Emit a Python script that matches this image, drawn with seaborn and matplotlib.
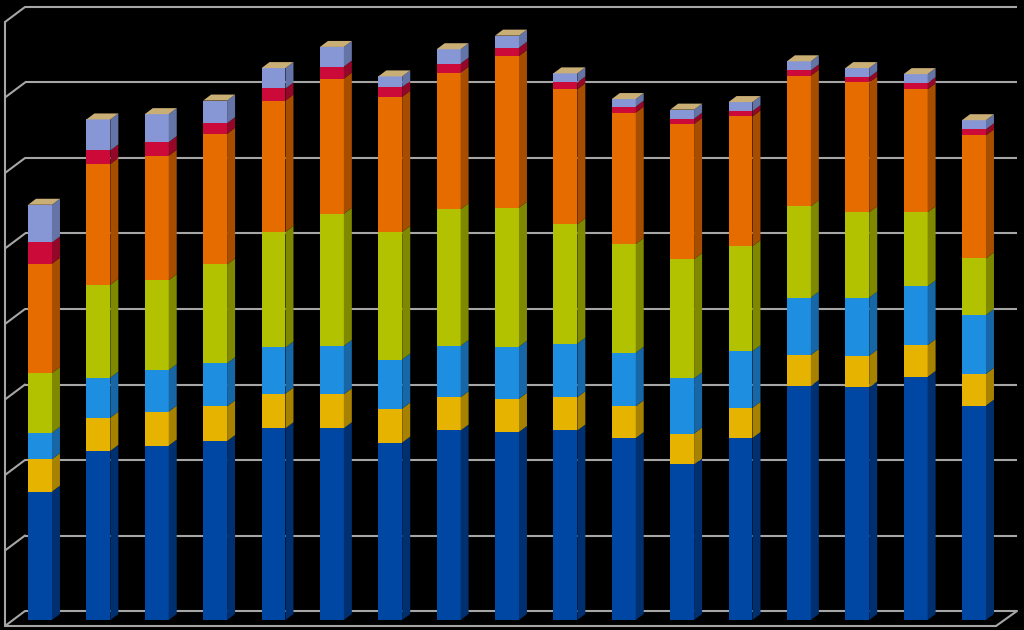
import numpy as np
import pandas as pd
import matplotlib
matplotlib.use("Agg")
import matplotlib.pyplot as plt
from matplotlib.patches import Polygon
import seaborn as sns

# ---------------- data ----------------
categories = [f"P{i}" for i in range(1, 18)]
series_names = ["S1", "S2", "S3", "S4", "S5", "S6", "S7"]
s1_blue = [170, 224, 231, 237, 254, 254, 235, 251, 249, 251, 241, 206, 241, 310, 308, 322, 284]
s2_gold = [43, 44, 45, 46, 46, 45, 45, 44, 44, 44, 42, 41, 40, 41, 42, 42, 42]
s3_lightblue = [35, 53, 55, 57, 61, 64, 65, 68, 69, 71, 71, 73, 75, 76, 77, 78, 78]
s4_yellowgreen = [79, 123, 119, 131, 153, 175, 169, 181, 184, 158, 144, 158, 139, 121, 113, 98, 75]
s5_orange = [145, 160, 165, 173, 174, 179, 179, 181, 201, 179, 174, 179, 172, 173, 172, 163, 163]
s6_red = [28, 18, 18, 14, 16, 16, 13, 12, 11, 9, 8, 7, 7, 7, 7, 8, 8]
s7_lavender = [50, 41, 37, 30, 27, 26, 14, 19, 16, 12, 10, 12, 12, 12, 12, 12, 12]
gridlines = [0, 100, 200, 300, 400, 500, 600, 700, 800]

series = [s1_blue, s2_gold, s3_lightblue, s4_yellowgreen, s5_orange, s6_red, s7_lavender]
front_colors = ["#0047A3", "#E5B300", "#1E8EE0", "#B3C200", "#E66C00", "#CC0A3A", "#8797D6"]
side_colors = ["#00306F", "#A68200", "#1766A6", "#7E8900", "#A64D00", "#930828", "#6574A6"]
cap_color = "#C9AE76"
grid_color = "#A6A6A6"

# ---------------- figure ----------------
sns.set_style("dark", {"axes.facecolor": "black", "figure.facecolor": "black"})
fig = plt.figure(figsize=(10.24, 6.30), dpi=100, facecolor="black")
ax = fig.add_axes([0, 0, 1, 1])
ax.set_facecolor("black")

px_per_x = 58.375          # pixels per category step
px_per_v = 0.755           # pixels per value unit
bar_w = 0.41
ddx = 8 / px_per_x         # bar depth (x)
ddy = 6 / px_per_v         # bar depth (y)

# walls / gridlines (back plane)
wall_dy = 9 / px_per_v
x_back_l = (25 - 40) / px_per_x
x_back_r = (1017 - 40) / px_per_x
x_front_l = (5 - 40) / px_per_x
x_front_r = (996 - 40) / px_per_x
left_dy = 15 / px_per_v
for g in gridlines:
    yb = g + wall_dy
    ax.plot([x_back_l, x_back_r], [yb, yb], color=grid_color, lw=1.5, zorder=0,
            solid_capstyle="butt")
    ax.plot([x_front_l, x_back_l], [yb - left_dy, yb], color=grid_color, lw=1.5, zorder=0)
# left wall vertical, floor front edge, floor right edge
ax.plot([x_front_l, x_front_l], [wall_dy - left_dy, gridlines[-1] + wall_dy - left_dy],
        color=grid_color, lw=1.5, zorder=0)
ax.plot([x_front_l, x_front_r], [wall_dy - left_dy] * 2, color=grid_color, lw=1.5, zorder=0)
ax.plot([x_front_r, x_back_r], [wall_dy - left_dy, wall_dy], color=grid_color, lw=1.5, zorder=0)

# stacked front faces via seaborn
df = pd.DataFrame({"cat": categories})
bottom = np.zeros(len(categories))
for vals, fc in zip(series, front_colors):
    df["v"] = vals
    sns.barplot(data=df, x="cat", y="v", order=categories, bottom=bottom, color=fc,
                saturation=1, width=bar_w, errorbar=None, edgecolor="none",
                linewidth=0, ax=ax, zorder=3)
    bottom = bottom + np.array(vals)

# 3D side faces and top caps, from the same data
bottom = np.zeros(len(categories))
for vals, sc in zip(series, side_colors):
    top = bottom + np.array(vals)
    for i in range(len(categories)):
        xr = i + bar_w / 2
        ax.add_patch(Polygon([(xr, bottom[i]), (xr + ddx, bottom[i] + ddy),
                              (xr + ddx, top[i] + ddy), (xr, top[i])],
                             closed=True, facecolor=sc, edgecolor="none", zorder=3))
    bottom = top
for i in range(len(categories)):
    xl, xr = i - bar_w / 2, i + bar_w / 2
    T = bottom[i]
    ax.add_patch(Polygon([(xl, T), (xr, T), (xr + ddx, T + ddy), (xl + ddx, T + ddy)],
                         closed=True, facecolor=cap_color, edgecolor="none", zorder=3))

ax.set_xlim(-40 / px_per_x, (1024 - 40) / px_per_x)
ax.set_ylim(-10 / px_per_v, 620 / px_per_v)
ax.set_axis_off()
fig.savefig("out.png", dpi=100, facecolor="black")
